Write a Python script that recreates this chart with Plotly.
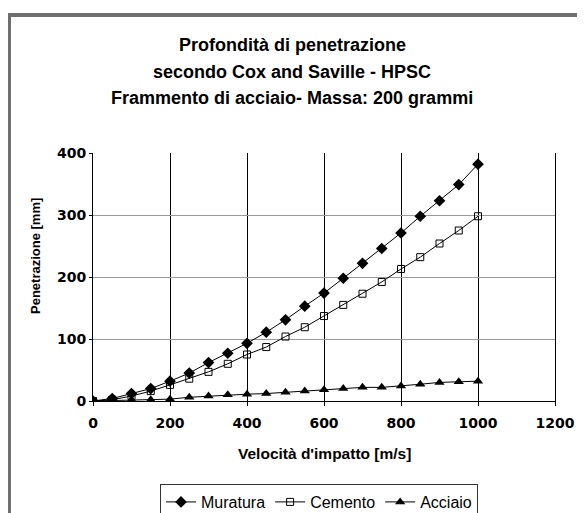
import plotly.graph_objects as go

velocita = [0, 50, 100, 150, 200, 250, 300, 350, 400, 450, 500,
            550, 600, 650, 700, 750, 800, 850, 900, 950, 1000]
muratura = [0, 4, 12, 20, 32, 45, 62, 77, 93, 111, 131,
            153, 174, 198, 222, 246, 271, 298, 323, 349, 382]
cemento = [0, 2, 8, 16, 26, 36, 47, 60, 75, 87, 104,
           119, 137, 155, 173, 192, 213, 232, 254, 275, 298]
acciaio = [0, 1, 2, 2, 3, 6, 8, 10, 11, 12, 14,
           16, 18, 20, 22, 22, 24, 27, 30, 31, 32]

title_lines = ['Profondità di penetrazione',
               'secondo Cox and Saville - HPSC',
               'Frammento di acciaio- Massa: 200 grammi']

series = [
    ('Muratura', muratura, dict(symbol='diamond', size=9, color='black')),
    ('Cemento', cemento, dict(symbol='square-open', size=7, color='black', line=dict(width=1, color='black'))),
    ('Acciaio', acciaio, dict(symbol='triangle-up', size=9, color='black')),
]

# la pagina ha un margine di 8px sul body: tutte le posizioni sono in pixel di pagina
PX0, PX1 = 93, 555   # bordo sinistro / destro area grafico
PY0, PY1 = 153, 401  # bordo alto / basso area grafico
OFF = 8


def px(x):
    return (x - PX0) / (PX1 - PX0)


def py(y):
    return (PY1 - y) / (PY1 - PY0)


fig = go.Figure()
for name, vals, marker in series:
    fig.add_trace(go.Scatter(x=velocita, y=vals, name=name, mode='lines+markers',
                             line=dict(color='black', width=1), marker=marker))

tick_font = dict(family='DejaVu Sans', size=14, color='black', weight='bold')
fig.update_xaxes(range=[0, 1200], dtick=200, showgrid=True, gridcolor='black', gridwidth=1,
                 showline=True, linecolor='black', linewidth=1, zeroline=False,
                 ticks='outside', ticklen=4, tickcolor='black', tickfont=tick_font,
                 ticklabelstandoff=5)
fig.update_yaxes(range=[0, 400], dtick=100, showgrid=True, gridcolor='#9a9a9a', gridwidth=1,
                 showline=True, mirror=True, linecolor='black', linewidth=1, zeroline=False,
                 ticks='outside', ticklen=3, tickcolor='black', tickfont=tick_font)

# titolo su tre righe
for txt, ypix in zip(title_lines, [45, 72, 98]):
    fig.add_annotation(text=txt, xref='paper', yref='paper', x=px(292), y=py(ypix),
                       xanchor='center', yanchor='middle', showarrow=False,
                       font=dict(family='Liberation Sans, Arial', size=18, color='black', weight='bold'))

fig.add_annotation(text="Velocità d'impatto [m/s]", xref='paper', yref='paper', x=px(324), y=py(453),
                   xanchor='center', yanchor='middle', showarrow=False,
                   font=dict(family='Liberation Sans, Arial', size=15.5, color='black', weight='bold'))
fig.add_annotation(text='Penetrazione [mm]', xref='paper', yref='paper', x=px(35), y=py(256),
                   xanchor='center', yanchor='middle', showarrow=False, textangle=-90,
                   font=dict(family='Liberation Sans, Arial', size=13, color='black', weight='bold'))

# cornice grigia
fig.add_shape(type='rect', xref='paper', yref='paper', x0=px(9), x1=px(620),
              y0=py(560), y1=py(15), line=dict(color='#6e6e6e', width=4))

fig.update_layout(
    width=585 - OFF, height=513 - OFF,
    margin=dict(l=PX0 - OFF, r=585 - PX1, t=PY0 - OFF, b=513 - PY1, autoexpand=False),
    paper_bgcolor='white', plot_bgcolor='white',
    showlegend=True,
    legend=dict(orientation='h', x=px(319), xanchor='center', y=py(484), yanchor='top',
                bordercolor='#333333', borderwidth=1, bgcolor='white',
                font=dict(family='Liberation Sans, Arial', size=16, color='black')),
)

fig.write_html('out.html')
